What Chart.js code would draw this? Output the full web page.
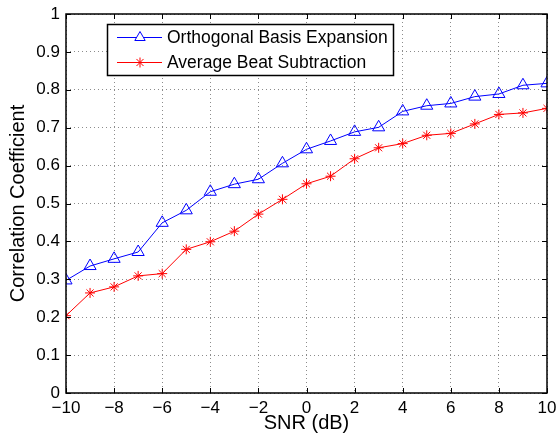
<!DOCTYPE html>
<html>
<head>
<meta charset="utf-8">
<script src="https://cdn.jsdelivr.net/npm/chart.js@4"></script>
<style>
  html, body { margin: 0; padding: 0; background: #fff; }
  #wrap { width: 558px; height: 441px; }
</style>
</head>
<body>
<div id="wrap"><canvas id="snrChart" width="558" height="441"></canvas></div>
<script>
var snr = [-10, -9, -8, -7, -6, -5, -4, -3, -2, -1, 0, 1, 2, 3, 4, 5, 6, 7, 8, 9, 10];
var orthogonal = [0.297, 0.335, 0.354, 0.372, 0.449, 0.482, 0.531, 0.551, 0.564, 0.606, 0.643,
  0.665, 0.689, 0.701, 0.743, 0.758, 0.764, 0.782, 0.789, 0.812, 0.817];
var averageBeat = [0.204, 0.264, 0.280, 0.309, 0.315, 0.379, 0.399, 0.427, 0.472, 0.511, 0.552,
  0.572, 0.618, 0.647, 0.658, 0.680, 0.685, 0.710, 0.735, 0.739, 0.751];
var seriesNames = ["Orthogonal Basis Expansion", "Average Beat Subtraction"];
var xTicks = [-10, -8, -6, -4, -2, 0, 2, 4, 6, 8, 10];

var FONT = "'Liberation Sans', Arial, Helvetica, sans-serif";

function toPoints(ys) {
  return snr.map(function (x, i) { return { x: x, y: ys[i] }; });
}
function minusSign(v) {
  var s = String(Math.round(v * 10) / 10);
  return s.replace("-", "\u2212");
}
// keep the plot box where the layout padding puts it
function noOverflow(s) {
  s.paddingTop = 0; s.paddingBottom = 0;
  s.paddingLeft = 0; s.paddingRight = 0;
}

// frame, inward ticks and the legend box, matlab style
var matlabFrame = {
  id: "matlabFrame",
  afterDatasetsDraw: function (chart) {
    var ctx = chart.ctx, a = chart.chartArea;
    var xs = chart.scales.x, ys = chart.scales.y;
    ctx.save();
    ctx.strokeStyle = "#000";
    ctx.lineWidth = 1;
    ctx.setLineDash([]);
    ctx.beginPath();
    xs.ticks.forEach(function (t) {
      var px = Math.round(xs.getPixelForValue(t.value)) + 0.5;
      ctx.moveTo(px, a.bottom); ctx.lineTo(px, a.bottom - 5);
      ctx.moveTo(px, a.top); ctx.lineTo(px, a.top + 5);
    });
    ys.ticks.forEach(function (t) {
      var py = Math.round(ys.getPixelForValue(t.value)) + 0.5;
      ctx.moveTo(a.left, py); ctx.lineTo(a.left + 5, py);
      ctx.moveTo(a.right, py); ctx.lineTo(a.right - 5, py);
    });
    ctx.stroke();
    ctx.lineWidth = 1.5;
    ctx.strokeRect(Math.round(a.left), Math.round(a.top), Math.round(a.right - a.left), Math.round(a.bottom - a.top));

    // legend
    var lx = a.left + 41, ly = a.top + 10, lw = 286, lh = 51;
    ctx.fillStyle = "#fff";
    ctx.fillRect(lx, ly, lw, lh);
    ctx.lineWidth = 1.5;
    ctx.strokeRect(lx + 0.5, ly + 0.5, lw, lh);
    var colors = ["#0000ff", "#ff0000"];
    var styles = ["triangle", "star"];
    var radii = [6, 5];
    ctx.font = "17.5px " + FONT;
    ctx.textBaseline = "middle";
    ctx.textAlign = "left";
    for (var i = 0; i < 2; i++) {
      var cy = ly + 13.5 + i * 25;
      ctx.strokeStyle = colors[i];
      ctx.lineWidth = 1;
      ctx.beginPath();
      ctx.moveTo(lx + 10, cy); ctx.lineTo(lx + 55, cy);
      ctx.stroke();
      Chart.helpers.drawPoint(ctx, { pointStyle: styles[i], radius: radii[i], borderWidth: 1 }, lx + 33, cy);
      ctx.fillStyle = "#000";
      ctx.fillText(seriesNames[i], lx + 60, cy + 1);
    }
    ctx.restore();
  }
};

var ctx = document.getElementById("snrChart").getContext("2d");
new Chart(ctx, {
  type: "line",
  data: {
    datasets: [
      {
        label: seriesNames[0],
        data: toPoints(orthogonal),
        borderColor: "#0000ff",
        borderWidth: 1,
        pointStyle: "triangle",
        pointRadius: 7,
        pointBorderColor: "#0000ff",
        pointBackgroundColor: "rgba(0,0,0,0)",
        pointBorderWidth: 1,
        tension: 0,
      },
      {
        label: seriesNames[1],
        data: toPoints(averageBeat),
        borderColor: "#ff0000",
        borderWidth: 1,
        pointStyle: "star",
        pointRadius: 5,
        pointBorderColor: "#ff0000",
        pointBorderWidth: 1,
        tension: 0,
      },
    ],
  },
  options: {
    responsive: false,
    animation: false,
    layout: { padding: { top: 14, right: 11, left: 0, bottom: 0 } },
    plugins: {
      legend: { display: false },
      tooltip: { enabled: false },
    },
    scales: {
      x: {
        type: "linear",
        min: -10,
        max: 10,
        afterBuildTicks: function (s) {
          s.ticks = xTicks.map(function (v) { return { value: v }; });
        },
        afterFit: function (s) { s.height = 48; noOverflow(s); },
        ticks: {
          color: "#000",
          font: { family: FONT, size: 17 },
          padding: 5,
          maxRotation: 0,
          callback: function (v) { return minusSign(v); },
        },
        grid: {
          color: "rgba(0,0,0,0.45)",
          lineWidth: 1,
          drawTicks: false,
          tickLength: 0,
        },
        border: { display: false, dash: [1, 3] },
        title: {
          display: true,
          text: "SNR (dB)",
          color: "#000",
          font: { family: FONT, size: 20 },
          padding: { top: 0, bottom: 6 },
        },
      },
      y: {
        min: 0,
        max: 1,
        afterFit: function (s) { s.width = 66; noOverflow(s); },
        ticks: {
          stepSize: 0.1,
          color: "#000",
          font: { family: FONT, size: 17 },
          padding: 6,
          callback: function (v) { return minusSign(v); },
        },
        grid: {
          color: "rgba(0,0,0,0.45)",
          lineWidth: 1,
          drawTicks: false,
          tickLength: 0,
        },
        border: { display: false, dash: [1, 3] },
        title: {
          display: true,
          text: "Correlation Coefficient",
          color: "#000",
          font: { family: FONT, size: 20 },
          padding: { top: 6, bottom: 0 },
        },
      },
    },
  },
  plugins: [matlabFrame],
});
</script>
</body>
</html>
